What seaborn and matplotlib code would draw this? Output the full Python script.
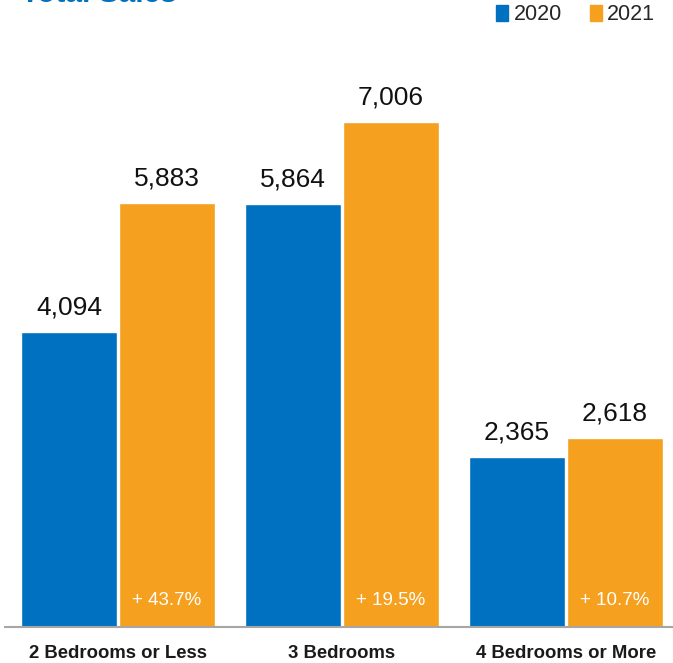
import matplotlib
matplotlib.use("Agg")
import matplotlib.pyplot as plt
import seaborn as sns
import pandas as pd
from matplotlib.patches import Patch

categories = ["2 Bedrooms or Less", "3 Bedrooms", "4 Bedrooms or More"]
years = ["2020", "2021"]
sales_2020 = [4094, 5864, 2365]
sales_2021 = [5883, 7006, 2618]
pct_change = ["+ 43.7%", "+ 19.5%", "+ 10.7%"]
title = "Total Sales"

colors = ["#0070C0", "#F5A01E"]

df = pd.DataFrame({
    "category": categories * 2,
    "year": [years[0]] * 3 + [years[1]] * 3,
    "sales": sales_2020 + sales_2021,
})

sns.set_style("white")
plt.rcParams["font.family"] = ["Liberation Sans", "DejaVu Sans"]

W, H = 673, 663
fig = plt.figure(figsize=(W / 100, H / 100), dpi=100)
ax_left, ax_right = 5, 673
ax_bottom, ax_top = 627, 40
ax = fig.add_axes([ax_left / W, (H - ax_bottom) / H, (ax_right - ax_left) / W, (ax_bottom - ax_top) / H])

sns.barplot(data=df, x="category", y="sales", hue="year", palette=colors,
            width=0.875, gap=0.03, ax=ax, legend=False, saturation=1)

# group centers at 0,1,2 => px 118, 342, 566 (224 px per unit)
ax.set_xlim((ax_left - 118) / 224, (ax_right - 118) / 224)
px_per_unit = 505 / 7006
ax.set_ylim(0, (ax_bottom - ax_top) / px_per_unit)

for sp in ["top", "right", "left"]:
    ax.spines[sp].set_visible(False)
ax.spines["bottom"].set_color("#A6A6A6")
ax.spines["bottom"].set_linewidth(1.5)
ax.set_yticks([])
ax.set_xlabel("")
ax.set_ylabel("")
ax.tick_params(axis="x", length=0, pad=13)
ax.set_xticks(range(len(categories)))
ax.set_xticklabels(categories, fontsize=13.3, fontweight="bold", color="#1a1a1a")

# value labels
for cont in ax.containers:
    for bar in cont:
        h = bar.get_height()
        ax.annotate(f"{int(h):,}", (bar.get_x() + bar.get_width() / 2, h),
                    xytext=(0, 12.5), textcoords="offset points",
                    ha="center", va="baseline", fontsize=19, color="#111111")

# percent labels inside 2021 bars
for bar, txt in zip(ax.containers[1], pct_change):
    ax.annotate(txt, (bar.get_x() + bar.get_width() / 2, 0),
                xytext=(0, 19), textcoords="offset points",
                ha="center", va="center", fontsize=13.5, color="white")

# legend
handles = [Patch(color=c, label=y) for c, y in zip(colors, years)]
fig.legend(handles=handles, loc="center right", bbox_to_anchor=(1 - 18 / W, 1 - 15 / H),
           ncol=2, frameon=False, fontsize=15.5, handlelength=0.55, handleheight=0.75,
           handletextpad=0.25, columnspacing=1.3, borderaxespad=0, borderpad=0)

# title (cut off at top in reference)
fig.text(21 / W, 1 - 1.5 / H, title, fontsize=21.5, fontweight="bold",
         color="#0070C0", va="baseline", ha="left")

fig.savefig("out.png", dpi=100)
